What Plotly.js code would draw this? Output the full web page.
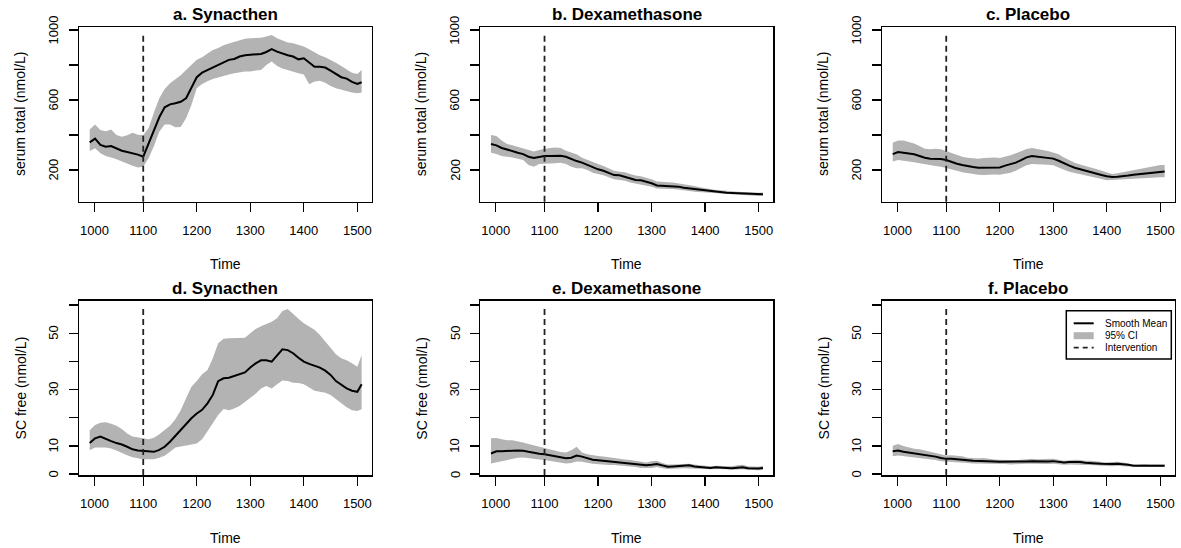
<!DOCTYPE html>
<html>
<head>
<meta charset="utf-8">
<script src="https://cdn.plot.ly/plotly-3.0.1.min.js"></script>
<style>html,body{margin:0;padding:0;background:#fff;}#chart{width:1181px;height:548px;}</style>
</head>
<body>
<div id="chart"></div>
<script>
// ---------------- DATA ----------------
const time = [1000,1010,1020,1030,1040,1050,1060,1070,1080,1090,1100,1110,1120,1130,1140,1150,1160,1170,1180,1190,1200,1210,1220,1230,1240,1250,1260,1270,1280,1290,1300,1310,1320,1330,1340,1350,1360,1370,1380,1390,1400,1410,1420,1430,1440,1450,1460,1470,1480,1490,1500,1508];
const interventionTime = 1100;

const panelTitles = ["a. Synacthen","b. Dexamethasone","c. Placebo","d. Synacthen","e. Dexamethasone","f. Placebo"];
const rowYTitles = ["serum total (nmol/L)","SC free (nmol/L)"];
const xTitle = "Time";
const xTickVals = [1009,1100,1200,1300,1400,1500];
const xTickText = ["1000","1100","1200","1300","1400","1500"];
const totalTickVals = [200,400,600,800,1000];
const totalTickText = ["200","","600","","1000"];
const freeTickVals = [0,10,20,30,40,50,60];
const freeTickText = ["0","10","","30","","50",""];
const legendLabels = ["Smooth Mean","95% CI","Intervention"];

// a. Synacthen – serum total
const synTotalMean = [358,379,343,333,337,322,310,303,297,288,276,352,429,501,558,575,581,590,610,667,730,756,771,785,800,815,829,834,848,855,859,861,863,874,890,876,865,855,848,832,838,813,790,789,785,768,747,730,722,703,691,701];
const synTotalHi   = [432,460,429,421,432,400,390,398,413,402,400,438,528,610,662,695,718,741,771,800,829,844,867,886,897,912,922,931,943,949,952,952,956,962,971,952,939,928,924,916,905,890,870,855,844,829,813,794,775,756,749,771];
const synTotalLo   = [309,324,295,280,272,261,251,238,225,215,219,267,337,419,460,460,444,445,495,571,667,691,707,720,730,737,745,752,758,762,762,768,771,800,819,794,779,768,762,752,745,690,705,710,699,680,667,657,651,642,638,642];

// b. Dexamethasone – serum total
const dexTotalMean = [349,341,326,316,309,299,291,276,269,276,280,280,280,282,276,263,251,242,229,213,204,196,185,171,170,162,150,143,141,133,124,112,110,110,109,105,99,95,91,86,82,78,76,74,70,69,67,65,63,61,61,61];
const dexTotalHi   = [400,394,368,349,341,333,324,314,305,314,322,326,328,326,310,299,290,270,257,244,234,223,210,196,190,187,177,168,164,156,147,135,131,130,128,124,118,112,109,101,95,90,86,84,80,78,76,74,72,70,70,72];
const dexTotalLo   = [299,291,280,276,272,265,257,229,219,234,238,238,238,242,234,219,210,210,200,185,177,170,158,147,143,139,128,120,114,110,105,95,93,91,91,90,84,80,76,72,69,67,65,63,61,59,57,55,53,53,51,51];

// c. Placebo – serum total
const placTotalMean = [291,303,299,295,290,280,270,265,265,263,257,246,236,229,221,217,213,213,217,217,215,225,232,242,257,272,280,276,272,270,265,253,238,225,213,204,198,190,181,171,164,160,162,164,168,173,177,181,185,189,190,192];
const placTotalHi   = [356,368,368,362,352,337,322,318,322,318,307,295,284,276,270,267,265,269,272,272,269,276,284,295,307,320,326,322,314,309,301,290,272,257,242,232,225,215,206,196,185,177,181,187,194,202,208,213,217,223,229,229];
const placTotalLo   = [248,257,253,248,244,238,232,227,223,219,213,204,196,187,181,177,173,171,171,175,173,177,185,196,210,227,234,234,232,230,227,215,202,190,181,175,169,164,156,149,141,139,141,143,145,149,150,152,154,156,158,158];

// d. Synacthen – SC free
const synFreeMean = [11.0,12.7,13.3,12.4,11.7,11.0,10.5,9.7,8.8,8.4,8.3,8.1,7.9,8.6,9.7,11.5,13.6,15.6,17.8,19.8,21.5,22.8,25.1,28.1,33.0,34.0,34.2,34.8,35.4,36.1,37.8,39.3,40.4,40.4,39.9,42.3,44.3,44.0,42.9,41.3,39.9,39.1,38.4,37.8,36.7,35.2,33.0,31.6,30.4,29.6,29.2,31.9];
const synFreeHi   = [15.6,17.4,18.2,18.4,17.9,17.2,16.0,14.4,13.3,12.9,12.7,12.4,12.9,14.1,15.6,17.2,19.5,22.7,26.9,31.0,33.0,35.4,36.9,41.1,46.4,48.0,48.2,48.2,48.2,48.4,50.0,51.5,52.5,53.2,54.1,55.3,57.9,58.6,56.7,55.1,53.5,52.3,51.2,49.4,47.0,44.9,42.5,41.1,40.4,39.3,38.1,42.3];
const synFreeLo   = [8.5,9.4,9.4,9.4,9.1,8.4,7.6,6.7,6.0,5.6,5.3,5.3,5.3,5.8,6.5,7.9,9.4,9.9,10.3,10.5,10.9,12.4,15.3,18.0,21.0,23.1,22.7,23.3,24.2,25.5,27.1,28.5,30.4,31.3,30.4,31.9,33.2,33.0,32.4,32.3,31.9,30.7,29.6,29.2,28.9,28.1,26.5,25.1,23.7,22.7,22.4,23.0];

// e. Dexamethasone – SC free
const dexFreeMean = [7.3,8.1,8.1,8.3,8.3,8.4,8.3,7.9,7.5,7.2,7.0,6.7,6.4,5.9,5.6,5.8,6.6,6.2,5.6,5.1,4.9,4.7,4.5,4.4,4.1,4.0,3.8,3.6,3.2,3.1,3.3,3.6,3.1,2.6,2.7,2.8,3.0,3.1,2.7,2.5,2.4,2.2,2.4,2.4,2.2,2.1,2.2,2.4,2.1,2.0,2.0,2.2];
const dexFreeHi   = [12.7,12.8,12.4,12.0,12.0,11.7,11.2,10.7,10.2,9.7,9.2,8.8,8.3,7.8,7.7,8.5,9.7,7.7,7.0,6.6,6.4,6.2,5.9,5.7,5.4,5.2,5.0,4.7,4.3,4.1,4.6,4.7,3.9,3.4,3.4,3.4,3.6,3.7,3.3,3.1,3.0,2.8,3.0,3.0,2.8,2.8,3.1,3.3,2.8,2.6,2.6,3.0];
const dexFreeLo   = [3.8,4.4,4.6,5.1,5.4,5.8,5.9,5.7,5.4,5.2,5.0,4.9,4.6,4.1,3.8,3.9,4.5,4.4,4.0,3.7,3.4,3.3,3.2,3.2,3.0,2.8,2.7,2.5,2.2,2.1,2.2,2.5,2.1,1.8,1.9,2.0,2.1,2.2,2.0,1.8,1.8,1.7,1.8,1.8,1.7,1.5,1.5,1.7,1.5,1.4,1.4,1.5];

// f. Placebo – SC free
const placFreeMean = [8.1,8.4,7.9,7.6,7.3,7.1,6.9,6.5,6.2,5.7,5.4,5.4,5.3,5.1,4.9,4.7,4.7,4.7,4.6,4.5,4.4,4.4,4.3,4.3,4.4,4.5,4.6,4.5,4.5,4.5,4.6,4.4,4.1,4.3,4.3,4.3,4.0,4.0,3.8,3.7,3.6,3.6,3.7,3.6,3.3,3.0,3.0,3.1,3.0,3.0,3.0,3.0];
const placFreeHi   = [10.1,10.7,10.0,9.4,9.0,8.8,8.4,7.9,7.5,7.0,6.6,6.7,6.6,6.3,5.8,5.6,5.6,5.7,5.4,5.2,5.1,5.0,5.0,4.9,5.1,5.3,5.4,5.3,5.3,5.3,5.4,5.1,4.7,4.9,5.1,5.0,4.7,4.7,4.5,4.3,4.1,4.3,4.4,4.1,3.8,3.4,3.4,3.6,3.4,3.4,3.4,3.4];
const placFreeLo   = [6.3,6.6,6.3,6.0,5.9,5.7,5.4,5.2,5.0,4.6,4.4,4.3,4.1,4.0,3.9,3.8,3.8,3.8,3.7,3.7,3.6,3.6,3.4,3.4,3.6,3.7,3.7,3.7,3.7,3.6,3.7,3.6,3.3,3.4,3.3,3.4,3.2,3.2,3.1,3.0,2.8,2.8,3.0,2.8,2.7,2.5,2.5,2.6,2.5,2.5,2.5,2.5];

// ---------------- LAYOUT / DRAW ----------------
const W = 1181, H = 548;
const px = v => v / W;
const py = v => 1 - v / H;
const colLeft = [79, 480.3, 882];
const boxW = 292.8;
const rowTop = [27.3, 300.7];
const boxH = 174.4;
const FONT = "Liberation Sans, Arial, Helvetica, sans-serif";
const CI_COLOR = "#b3b3b3";

const panels = [
  {mean: synTotalMean, hi: synTotalHi, lo: synTotalLo},
  {mean: dexTotalMean, hi: dexTotalHi, lo: dexTotalLo},
  {mean: placTotalMean, hi: placTotalHi, lo: placTotalLo},
  {mean: synFreeMean, hi: synFreeHi, lo: synFreeLo},
  {mean: dexFreeMean, hi: dexFreeHi, lo: dexFreeLo},
  {mean: placFreeMean, hi: placFreeHi, lo: placFreeLo}
];

const traces = [];
const layout = {
  width: W, height: H,
  margin: {l: 0, r: 0, t: 0, b: 0},
  paper_bgcolor: "#fff", plot_bgcolor: "#fff",
  showlegend: false,
  font: {family: FONT, color: "#000"},
  annotations: [], shapes: []
};

panels.forEach((p, i) => {
  const row = Math.floor(i / 3), col = i % 3;
  const sfx = i === 0 ? "" : String(i + 1);
  const xa = "x" + sfx, ya = "y" + sfx;

  const ciX = time.concat(time.slice().reverse());
  const ciY = p.hi.concat(p.lo.slice().reverse());
  traces.push({x: ciX, y: ciY, xaxis: xa, yaxis: ya, type: "scatter", mode: "lines",
    fill: "toself", fillcolor: CI_COLOR, line: {width: 0, color: CI_COLOR}, hoverinfo: "skip"});
  traces.push({x: time, y: p.mean, xaxis: xa, yaxis: ya, type: "scatter", mode: "lines",
    line: {color: "#000", width: 2}});

  const left = colLeft[col], top = rowTop[row];
  const yTickVals = row === 0 ? totalTickVals : freeTickVals;
  const yTickText = row === 0 ? totalTickText : freeTickText;
  layout["xaxis" + sfx] = {
    domain: [px(left), px(left + boxW)], anchor: ya,
    range: [980, 1527], tickvals: xTickVals, ticktext: xTickText,
    ticks: "outside", ticklen: 9, tickwidth: 1.3, tickcolor: "#000",
    showline: true, mirror: true, linecolor: "#000", linewidth: 1.5,
    showgrid: false, zeroline: false, ticklabelstandoff: 7,
    tickfont: {family: FONT, size: 13, color: "#000"}
  };
  layout["yaxis" + sfx] = {
    domain: [py(top + boxH), py(top)], anchor: xa,
    range: row === 0 ? [19, 1015] : [-0.36, 61.54],
    tickvals: yTickVals, showticklabels: false,
    ticks: "outside", ticklen: 9, tickwidth: 1.3, tickcolor: "#000",
    showline: true, mirror: true, linecolor: "#000", linewidth: 1.5,
    showgrid: false, zeroline: false
  };
  // rotated y tick labels (R style, parallel to axis)
  yTickVals.forEach((v, k) => {
    if (!yTickText[k]) return;
    layout.annotations.push({text: yTickText[k], xref: "paper", yref: ya,
      x: px(left - 25.5), y: v, xanchor: "center", yanchor: "middle", textangle: -90,
      showarrow: false, font: {family: FONT, size: 13, color: "#000"}});
  });

  // intervention line
  layout.shapes.push({type: "line", xref: xa, yref: ya + " domain",
    x0: interventionTime, x1: interventionTime, y0: 0, y1: 0.962,
    line: {color: "#222", width: 1.8, dash: "6px,4px"}});

  // panel title
  layout.annotations.push({text: "<b>" + panelTitles[i] + "</b>", xref: "paper", yref: "paper",
    x: px(left + boxW / 2), y: py(top - 12.5), xanchor: "center", yanchor: "middle",
    showarrow: false, font: {family: FONT, size: 17, color: "#000"}});
  // x title
  layout.annotations.push({text: xTitle, xref: "paper", yref: "paper",
    x: px(left + boxW / 2), y: py(top + boxH + 62.5), xanchor: "center", yanchor: "middle",
    showarrow: false, font: {family: FONT, size: 14, color: "#000"}});
  // y title
  layout.annotations.push({text: rowYTitles[row], xref: "paper", yref: "paper",
    x: px(left - 58.5), y: py(top + boxH / 2), xanchor: "center", yanchor: "middle",
    textangle: -90, showarrow: false, font: {family: FONT, size: 14, color: "#000"}});
});

// legend (panel f), drawn manually in R style
const lg = {x0: 1066.3, x1: 1171.3, y0: 310.7, y1: 359};
layout.shapes.push({type: "rect", xref: "paper", yref: "paper",
  x0: px(lg.x0), x1: px(lg.x1), y0: py(lg.y1), y1: py(lg.y0),
  line: {color: "#000", width: 1.5}, fillcolor: "#fff", layer: "above"});
const rowsY = [323.3, 335.7, 347.7];
const sampleX0 = 1073.7, sampleX1 = 1093.7, textX = 1102.5;
const sampleStyles = [
  {color: "#000", width: 2, dash: "solid"},
  {color: CI_COLOR, width: 7, dash: "solid"},
  {color: "#222", width: 1.8, dash: "5px,4px"}
];
legendLabels.forEach((lab, k) => {
  layout.shapes.push({type: "line", xref: "paper", yref: "paper", layer: "above",
    x0: px(sampleX0), x1: px(sampleX1), y0: py(rowsY[k]), y1: py(rowsY[k]),
    line: sampleStyles[k]});
  layout.annotations.push({text: lab, xref: "paper", yref: "paper",
    x: px(textX), y: py(rowsY[k]), xanchor: "left", yanchor: "middle",
    showarrow: false, font: {family: FONT, size: 10, color: "#000"}});
});

Plotly.newPlot("chart", traces, layout, {displayModeBar: false, staticPlot: true});
</script>
</body>
</html>
